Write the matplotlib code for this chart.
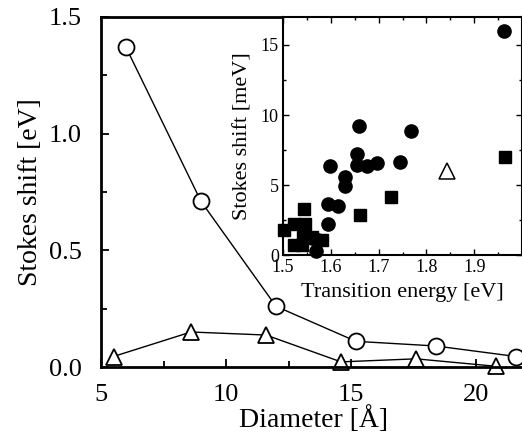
import matplotlib
matplotlib.use("Agg")
import matplotlib.pyplot as plt
from matplotlib.ticker import MultipleLocator

# main panel: stokes shift vs diameter
diam_circ = [6.0, 9.0, 12.0, 15.2, 18.4, 21.6]
shift_circ = [1.37, 0.71, 0.26, 0.11, 0.09, 0.045]
diam_tri = [5.5, 8.6, 11.6, 14.6, 17.6, 20.8]
shift_tri = [0.045, 0.15, 0.137, 0.022, 0.035, 0.003]

# inset: stokes shift vs transition energy
e_circ = [1.962, 1.658, 1.768, 1.654, 1.745, 1.697, 1.676, 1.654, 1.598,
          1.630, 1.630, 1.595, 1.616, 1.595, 1.574, 1.568, 1.560]
s_circ = [16.0, 9.24, 8.86, 7.21, 6.67, 6.55, 6.38, 6.43, 6.38,
          5.60, 4.93, 3.64, 3.52, 2.21, 1.07, 0.30, 1.20]
e_sq = [1.543, 1.502, 1.524, 1.546, 1.523, 1.541, 1.560, 1.582, 1.540,
        1.661, 1.726, 1.964]
s_sq = [3.30, 1.79, 2.24, 2.24, 0.68, 1.30, 1.30, 1.07, 0.70,
        2.86, 4.12, 7.0]
e_tri = [1.844]
s_tri = [6.02]

plt.rcParams['font.family'] = ['Liberation Serif', 'DejaVu Serif']

W, H = 522, 447
fig = plt.figure(figsize=(W / 100, H / 100), dpi=100)

# main axes, right edge runs off the picture
x0, x1 = 5, 22
px_per = 25.0
ax = fig.add_axes([101 / W, 80 / H, (x1 - x0) * px_per / W, 350 / H])
ax.plot(diam_circ, shift_circ, '-o', color='black', mfc='white', mec='black',
        ms=11.5, mew=1.3, lw=1.0)
ax.plot(diam_tri, shift_tri, '-^', color='black', mfc='white', mec='black',
        ms=12, mew=1.3, lw=1.0, clip_on=False)
ax.set_xlim(x0, x1)
ax.set_ylim(0, 1.5)
ax.xaxis.set_major_locator(MultipleLocator(5))
ax.xaxis.set_minor_locator(MultipleLocator(2.5))
ax.yaxis.set_major_locator(MultipleLocator(0.5))
ax.yaxis.set_minor_locator(MultipleLocator(0.25))
ax.yaxis.set_major_formatter(matplotlib.ticker.FormatStrFormatter('%.1f'))
ax.tick_params(which='both', direction='in', top=False, right=False,
               labelsize=19, width=1.3)
ax.tick_params(axis='y', pad=14)
ax.tick_params(axis='x', pad=12)
ax.tick_params(which='major', length=6)
ax.tick_params(which='minor', length=4)
for s in ax.spines.values():
    s.set_linewidth(2)
ax.spines['right'].set_visible(False)
ax.set_xlabel('Diameter [Å]', fontsize=20, labelpad=0)
ax.set_ylabel('Stokes shift [eV]', fontsize=20, labelpad=4)

# inset
ins = fig.add_axes([283 / W, (H - 255) / H, 239 / W, 238 / H])
ins.plot(e_circ, s_circ, 'o', color='black', ms=9.5, clip_on=False)
ins.plot(e_sq, s_sq, 's', color='black', ms=9, clip_on=False)
ins.plot(e_tri, s_tri, '^', color='black', mfc='white', ms=11, mew=1.1)
ins.set_xlim(1.5, 2.0)
ins.set_ylim(0, 17)
ins.xaxis.set_minor_locator(MultipleLocator(0.05))
ins.yaxis.set_major_locator(MultipleLocator(5))
ins.yaxis.set_minor_locator(MultipleLocator(2.5))
ins.set_xticks([1.5, 1.6, 1.7, 1.8, 1.9])
ins.tick_params(which='both', direction='in', top=True, right=True,
                labelsize=13, width=1.0, pad=3)
ins.tick_params(which='major', length=4)
ins.tick_params(which='minor', length=2.5)
for s in ins.spines.values():
    s.set_linewidth(1.5)
ins.set_xlabel('Transition energy [eV]', fontsize=16, labelpad=5)
ins.set_ylabel('Stokes shift [meV]', fontsize=16, labelpad=6)

fig.savefig('out.png', dpi=100)
